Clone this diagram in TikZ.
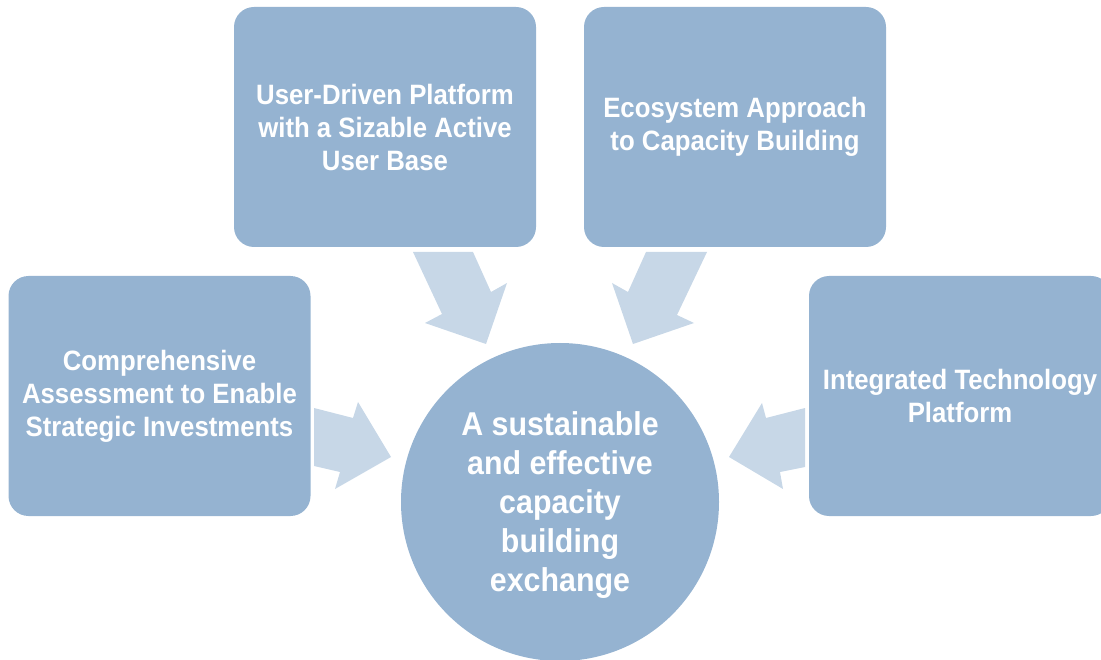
\documentclass[tikz,border=0pt]{standalone}
\usepackage{fontspec}
\setmainfont{Liberation Sans}
\newfontfamily\narrowsans[FakeStretch=0.92]{Liberation Sans}
\definecolor{boxblue}{HTML}{95B3D1}
\definecolor{arrowblue}{HTML}{C7D7E7}
\begin{document}
\begin{tikzpicture}[x=1pt,y=-1pt,
  card/.style={rectangle, rounded corners=20pt, fill=boxblue, draw=none,
    minimum width=302pt, minimum height=240pt, inner sep=0pt,
    text=white, align=center, font=\narrowsans\fontsize{28}{33}\selectfont\bfseries},
  hub/.style={circle, fill=boxblue, draw=none, minimum size=318pt, inner sep=0pt,
    text=white, align=center, font=\narrowsans\fontsize{33}{39}\selectfont\bfseries},
  blockarrow/.style={fill=arrowblue, draw=none}]
\useasboundingbox (0,0) rectangle (1101,660);
\clip (0,0) rectangle (1101,660);

% feeding arrows
\fill[blockarrow] (413,252) -- (473,252) -- (491,292) -- (507,283) -- (486,344) -- (425,323) -- (442,314) -- cycle;
\fill[blockarrow] (646,252) -- (707,252) -- (677,315) -- (694,323) -- (633,344) -- (612,283) -- (628,292) -- cycle;
\fill[blockarrow] (314,408) -- (353,418) -- (358,402) -- (391,457) -- (335,489) -- (340,472) -- (314,466) -- cycle;
\fill[blockarrow] (805,408) -- (766,418) -- (762,403) -- (729,457) -- (783,489) -- (780,472) -- (805,467) -- cycle;

% surrounding cards
\node[card] (user) at (385,127) {User-Driven Platform\\with a Sizable Active\\User Base};
\node[card] (eco) at (735,127) {Ecosystem Approach\\to Capacity Building};
\node[card] (assess) at (159.5,396) {Comprehensive\\Assessment to Enable\\Strategic Investments};
\node[card] (tech) at (960,396) {Integrated Technology\\Platform};

% central goal
\node[hub] (goal) at (560,502) {};
\node[text=white, align=center, font=\narrowsans\fontsize{33}{39}\selectfont\bfseries] (goaltext) at ([yshift=-3pt]goal.center) {A sustainable\\and effective\\capacity\\building\\exchange};
\end{tikzpicture}
\end{document}
